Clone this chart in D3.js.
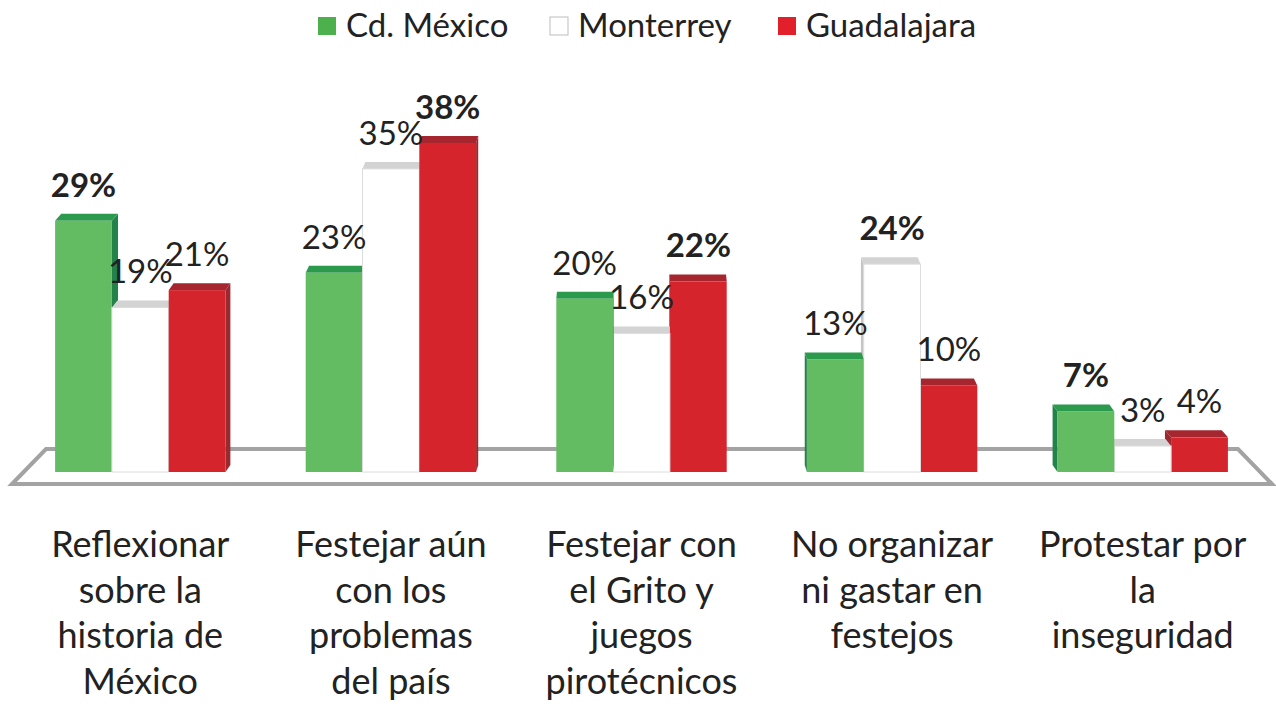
<!DOCTYPE html>
<html>
<head>
<meta charset="utf-8">
<script src="https://cdn.jsdelivr.net/npm/d3@7/dist/d3.min.js"></script>
<style>
  html, body { margin: 0; padding: 0; background: #fff; }
  svg { display: block; font-family: Lato, "Open Sans", sans-serif; }
</style>
</head>
<body>
<svg id="chart" width="1276" height="706"></svg>
<script>
// ---- data ----
const categories = [
  ["Reflexionar", "sobre la", "historia de", "México"],
  ["Festejar aún", "con los", "problemas", "del país"],
  ["Festejar con", "el Grito y", "juegos", "pirotécnicos"],
  ["No organizar", "ni gastar en", "festejos"],
  ["Protestar por", "la", "inseguridad"]
];
const seriesNames = ["Cd. México", "Monterrey", "Guadalajara"];
const cdMexico   = [29, 23, 20, 13, 7];
const monterrey  = [19, 35, 16, 24, 3];
const guadalajara = [21, 38, 22, 10, 4];
const seriesValues = [cdMexico, monterrey, guadalajara];

// ---- styles ----
const faceColors = [
  { front: "#63bb62", top: "#2c9a4c", side: "#22824a", legend: "#4cb04c", stroke: "none" },
  { front: "#ffffff", top: "#d3d3d3", side: "#c4c4c4", legend: "#ffffff", stroke: "#dcdcdc" },
  { front: "#d6242d", top: "#a5262f", side: "#9a2a30", legend: "#e2202b", stroke: "none" }
];

const svg = d3.select("#chart");
const baseY = 472;

const x0 = d3.scaleBand().domain(d3.range(categories.length))
  .range([15, 1268]).paddingInner(0.32).paddingOuter(0.16);
const x1 = d3.scaleBand().domain(d3.range(seriesNames.length))
  .range([0, x0.bandwidth()]);
const y = d3.scaleLinear().domain([0, 40]).range([baseY, baseY - 40 * 8.66]);

// ---- floor ----
svg.append("path")
  .attr("d", "M12,484 L46,449 L1238,449 L1272,484 Z")
  .attr("fill", "#fff")
  .attr("stroke", "#a3a3a3")
  .attr("stroke-width", 4)
  .attr("stroke-linejoin", "miter");

// ---- bars ----
const vanishX = 640;
const depthY = 7;
categories.forEach((cat, ci) => {
  const gx = x0(ci);
  const gCenter = gx + x0.bandwidth() / 2;
  let order = d3.range(seriesNames.length);
  if (gCenter > vanishX) order = order.reverse();
  const g = svg.append("g");
  order.forEach(si => {
    const v = seriesValues[si][ci];
    const xa = gx + x1(si);
    const xb = xa + x1.bandwidth();
    const cx = (xa + xb) / 2;
    const dx = (vanishX - cx) * 0.011;
    const yt = y(v);
    const c = faceColors[si];
    const sx = dx >= 0 ? xb : xa;
    g.append("path")
      .attr("d", `M${sx},${yt} L${sx + dx},${yt - depthY} L${sx + dx},${baseY - depthY} L${sx},${baseY} Z`)
      .attr("fill", c.side);
    g.append("path")
      .attr("d", `M${xa},${yt} L${xa + dx},${yt - depthY} L${xb + dx},${yt - depthY} L${xb},${yt} Z`)
      .attr("fill", c.top);
    g.append("rect")
      .attr("x", xa).attr("y", yt)
      .attr("width", x1.bandwidth()).attr("height", baseY - yt)
      .attr("fill", c.front)
      .attr("stroke", c.stroke).attr("stroke-width", 1);
  });
});

// ---- value labels ----
categories.forEach((cat, ci) => {
  const vals = seriesValues.map(s => s[ci]);
  const maxV = d3.max(vals);
  seriesNames.forEach((s, si) => {
    const v = seriesValues[si][ci];
    const cx = x0(ci) + x1(si) + x1.bandwidth() / 2;
    svg.append("text")
      .attr("x", cx)
      .attr("y", y(v) - 24)
      .attr("text-anchor", "middle")
      .attr("font-size", 33)
      .attr("font-weight", v === maxV ? 700 : 400)
      .attr("fill", "#222")
      .text(v + "%");
  });
});

// ---- category labels ----
categories.forEach((lines, ci) => {
  const cx = x0(ci) + x0.bandwidth() / 2;
  const t = svg.append("text")
    .attr("text-anchor", "middle")
    .attr("font-size", 36)
    .attr("fill", "#222");
  lines.forEach((ln, li) => {
    t.append("tspan").attr("x", cx).attr("y", 557 + li * 45.5).text(ln);
  });
});

// ---- legend ----
const legendX = [318, 550, 778];
const legend = svg.append("g");
seriesNames.forEach((name, si) => {
  legend.append("rect")
    .attr("x", legendX[si]).attr("y", 17)
    .attr("width", 18).attr("height", 18)
    .attr("fill", faceColors[si].legend)
    .attr("stroke", si === 1 ? "#bdbdbd" : "none")
    .attr("stroke-width", 1);
  legend.append("text")
    .attr("x", legendX[si] + 28).attr("y", 37)
    .attr("font-size", 33)
    .attr("fill", "#222")
    .text(name);
});
</script>
</body>
</html>
